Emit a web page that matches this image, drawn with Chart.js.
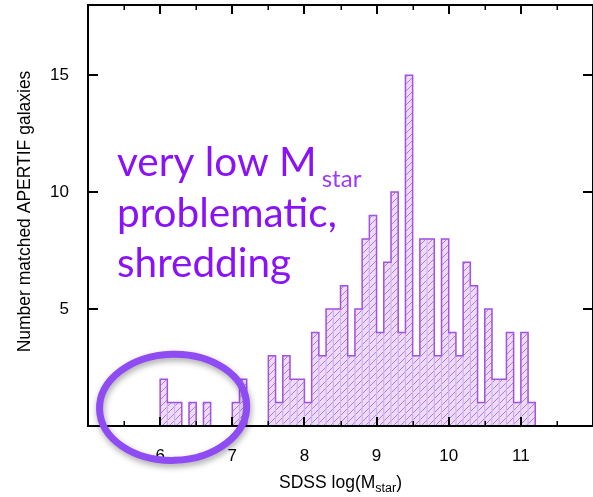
<!DOCTYPE html>
<html>
<head>
<meta charset="utf-8">
<script src="https://cdn.jsdelivr.net/npm/chart.js@4"></script>
<style>
  html, body { margin: 0; padding: 0; background: #fff; }
</style>
</head>
<body>
<canvas id="histo" width="593" height="497"></canvas>
<script>
// histogram of SDSS stellar mass for matched APERTIF galaxies, 0.1 dex bins
const binStart = 6.0;
const binWidth = 0.1;
const counts = [
  2, 1, 1, 0, 1, 0, 1, 0, 0, 0,   // 6.0 - 6.9
  1, 2, 0, 0, 0, 3, 1, 3, 2, 2,   // 7.0 - 7.9
  1, 4, 3, 5, 5, 6, 3, 5, 8, 9,   // 8.0 - 8.9
  4, 7, 10, 4, 15, 3, 8, 8, 3, 8, // 9.0 - 9.9
  4, 3, 7, 6, 1, 5, 2, 2, 4, 1,   // 10.0 - 10.9
  4, 1                            // 11.0 - 11.1
];
const xTicks = [6, 7, 8, 9, 10, 11];
const xMinorTicks = [5.5, 6.5, 7.5, 8.5, 9.5, 10.5, 11.5];
const yTicks = [5, 10, 15];
const noteLines = ["very low M", "problematic,", "shredding"];

const PURPLE = "#8a12f7";
const OUTLINE = "#a452e0";

const edges = counts.map((_, i) => +(binStart + i * binWidth).toFixed(2));
const barPoints = counts.map((c, i) => ({ x: +(edges[i] + binWidth / 2).toFixed(3), y: c }));
// outline of the histogram as a stepped line along the bin edges
const stepPoints = [{ x: edges[0], y: 0 }]
  .concat(counts.map((c, i) => ({ x: edges[i], y: c })))
  .concat([{ x: +(edges[edges.length - 1] + binWidth).toFixed(2), y: 0 }]);

function makeHatch(ctx) {
  const s = 7;
  const c = document.createElement("canvas");
  c.width = c.height = s;
  const g = c.getContext("2d");
  g.fillStyle = "#ecdcf8";
  g.fillRect(0, 0, s, s);
  g.strokeStyle = "#b27ade";
  g.lineWidth = 1;
  g.beginPath();
  g.moveTo(-1, s + 1); g.lineTo(s + 1, -1);
  g.moveTo(-1, 1); g.lineTo(1, -1);
  g.moveTo(s - 1, s + 1); g.lineTo(s + 1, s - 1);
  g.stroke();
  return ctx.createPattern(c, "repeat");
}

const AXIS_FONT = "'Liberation Sans', Arial, sans-serif";
const NOTE_FONT = "Lato, sans-serif";

const framePlugin = {
  id: "frame",
  afterDatasetsDraw(chart) {
    const { ctx, chartArea: a, scales: { x, y } } = chart;
    ctx.save();
    ctx.strokeStyle = "#000";
    ctx.lineWidth = 2;
    ctx.strokeRect(a.left, a.top, a.right - a.left, a.bottom - a.top);
    ctx.beginPath();
    xTicks.forEach(v => {
      const px = Math.round(x.getPixelForValue(v));
      ctx.moveTo(px, a.bottom); ctx.lineTo(px, a.bottom - 9);
      ctx.moveTo(px, a.top); ctx.lineTo(px, a.top + 9);
    });
    yTicks.forEach(v => {
      const py = Math.round(y.getPixelForValue(v));
      ctx.moveTo(a.left, py); ctx.lineTo(a.left + 10, py);
      ctx.moveTo(a.right, py); ctx.lineTo(a.right - 10, py);
    });
    ctx.stroke();
    ctx.lineWidth = 1.5;
    ctx.beginPath();
    xMinorTicks.forEach(v => {
      const px = Math.round(x.getPixelForValue(v)) + 0.25;
      ctx.moveTo(px, a.bottom); ctx.lineTo(px, a.bottom - 5);
      ctx.moveTo(px, a.top); ctx.lineTo(px, a.top + 5);
    });
    ctx.stroke();
    ctx.restore();
  },
  afterDraw(chart) {
    const { ctx, chartArea: a, scales: { x, y } } = chart;
    ctx.save();
    // axis titles
    ctx.fillStyle = "#000";
    ctx.textBaseline = "alphabetic";
    const main = "SDSS log(M";
    ctx.font = "17.5px " + AXIS_FONT;
    const w1 = ctx.measureText(main).width;
    ctx.font = "12.5px " + AXIS_FONT;
    const w2 = ctx.measureText("star").width;
    ctx.font = "17.5px " + AXIS_FONT;
    const w3 = ctx.measureText(")").width;
    const tx = (a.left + a.right) / 2 - (w1 + w2 + w3) / 2;
    ctx.textAlign = "left";
    ctx.fillText(main, tx, 488);
    ctx.font = "12.5px " + AXIS_FONT;
    ctx.fillText("star", tx + w1, 492);
    ctx.font = "17.5px " + AXIS_FONT;
    ctx.fillText(")", tx + w1 + w2, 488);

    ctx.save();
    ctx.translate(30, (a.top + a.bottom) / 2 - 4);
    ctx.rotate(-Math.PI / 2);
    ctx.textAlign = "center";
    ctx.fillText("Number matched APERTIF galaxies", 0, 0);
    ctx.restore();

    // note about the low-mass tail
    ctx.fillStyle = PURPLE;
    ctx.textAlign = "left";
    ctx.font = "40.5px " + NOTE_FONT;
    const nx = a.left + 29;
    ctx.fillText(noteLines[0], nx, 176);
    const mw = ctx.measureText(noteLines[0]).width;
    ctx.fillText(noteLines[1], nx, 227);
    ctx.fillText(noteLines[2], nx, 277);
    ctx.fillStyle = "#9b3cf6";
    ctx.font = "24px " + NOTE_FONT;
    ctx.fillText("star", nx + mw + 5, 187);

    // ring around the lowest-mass bins
    const cx = x.getPixelForValue(6.18);
    const cy = y.getPixelForValue(0.8);
    const rx = x.getPixelForValue(6.18 + 1.02) - cx;
    const ry = cy - y.getPixelForValue(0.8 + 2.27);
    ctx.shadowColor = "rgba(0,0,0,0.35)";
    ctx.shadowBlur = 6;
    ctx.shadowOffsetX = 1;
    ctx.shadowOffsetY = 3;
    ctx.strokeStyle = "#8f4cf5";
    ctx.lineWidth = 7;
    ctx.beginPath();
    ctx.ellipse(cx, cy, rx, ry, -0.03, 0, Math.PI * 2);
    ctx.stroke();
    ctx.restore();
  }
};

const canvas = document.getElementById("histo");
const ctx = canvas.getContext("2d");

new Chart(ctx, {
  data: {
    datasets: [
      {
        type: "bar",
        data: barPoints,
        backgroundColor: makeHatch(ctx),
        borderColor: "rgba(176, 110, 225, 0.45)",
        borderWidth: 1,
        barPercentage: 1,
        categoryPercentage: 1,
        order: 2
      },
      {
        type: "line",
        data: stepPoints,
        stepped: "before",
        borderColor: OUTLINE,
        borderWidth: 1.5,
        pointRadius: 0,
        fill: false,
        order: 1
      }
    ]
  },
  options: {
    responsive: false,
    animation: false,
    layout: { autoPadding: false, padding: { top: 5, right: -8.5, left: 0, bottom: 0 } },
    plugins: { legend: { display: false }, tooltip: { enabled: false } },
    scales: {
      x: {
        type: "linear",
        min: 5,
        max: 12,
        offset: false,
        grid: { display: false, drawTicks: false, offset: false },
        border: { display: false },
        afterBuildTicks: s => { s.ticks = xTicks.map(v => ({ value: v })); },
        afterFit: s => { s.height = 71; s.paddingLeft = 0; s.paddingRight = 0; },
        ticks: { padding: 20, color: "#000", font: { family: AXIS_FONT, size: 17 }, maxRotation: 0, autoSkip: false }
      },
      y: {
        type: "linear",
        min: 0,
        max: 18,
        grid: { display: false, drawTicks: false },
        border: { display: false },
        afterBuildTicks: s => { s.ticks = yTicks.map(v => ({ value: v })); },
        afterFit: s => { s.width = 88; s.paddingTop = 0; s.paddingBottom = 0; },
        ticks: { padding: 19, color: "#000", font: { family: AXIS_FONT, size: 17 } }
      }
    }
  },
  plugins: [framePlugin]
});
</script>
</body>
</html>
